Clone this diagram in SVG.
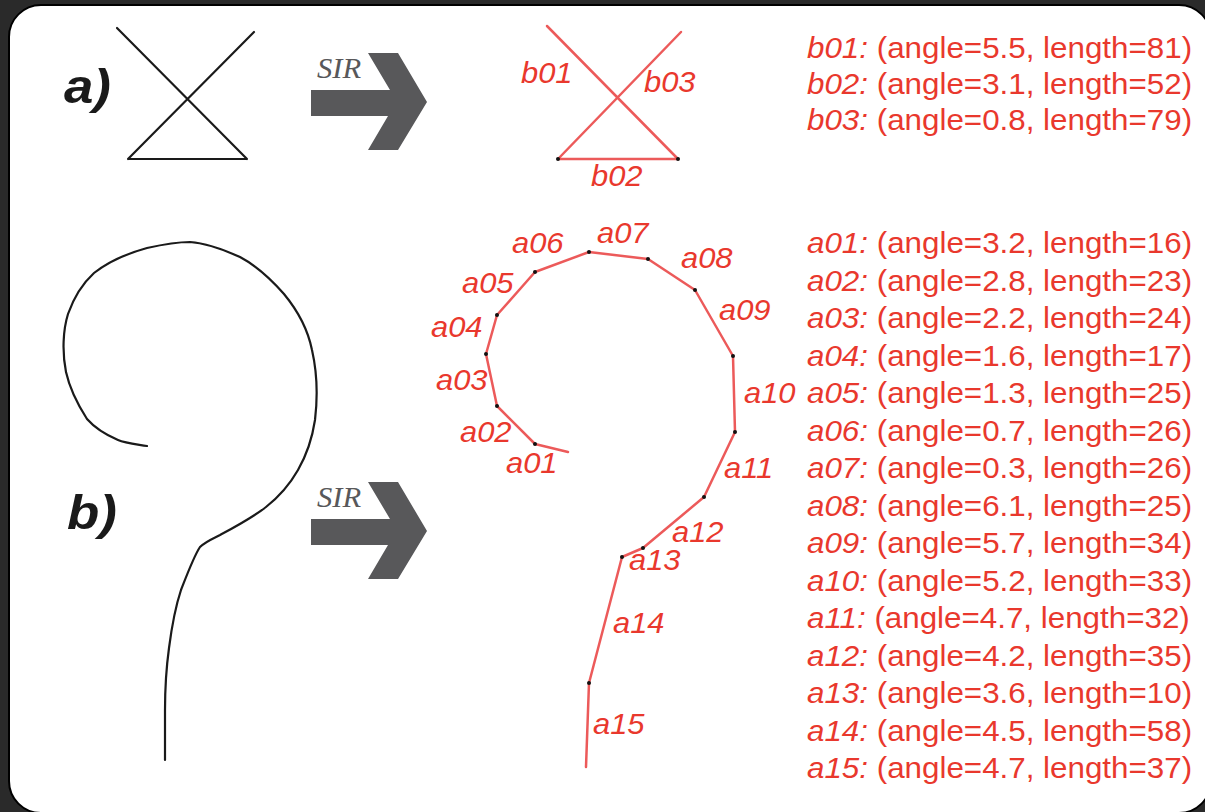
<svg xmlns="http://www.w3.org/2000/svg" width="1205" height="812" viewBox="0 0 1205 812">
<style>
.blk{fill:none;stroke:#1a1a1a;stroke-width:2.2;stroke-linejoin:round;stroke-linecap:round}
.red{fill:none;stroke:#ea4848;stroke-width:2.5;stroke-linejoin:round;stroke-linecap:round;opacity:0.9}
.dot{fill:#111}
.lbl{font-family:"Liberation Sans",Arial,sans-serif;font-style:italic;font-size:30px;fill:#e9382d}
.lst{font-family:"Liberation Sans",Arial,sans-serif;font-size:30px;fill:#e9382d}
.it{font-style:italic}
.tag{font-family:"Liberation Sans",Arial,sans-serif;font-style:italic;font-weight:bold;font-size:48px;fill:#1a1a1a}
.sir{font-family:"Liberation Serif","Times New Roman",serif;font-style:italic;font-size:30px;fill:#58585a}
.arr{fill:#58585a}
</style>
<rect width="1205" height="812" fill="#2a2a2a"/>
<rect x="9" y="5" width="1202" height="808" rx="32" fill="#ffffff" stroke="#000" stroke-width="2"/>

<g id="panel-a-input">
<text class="tag" transform="translate(64,103) scale(1.1,1)">a)</text>
<path class="blk" d="M117,28 L247,159 M254,32 L128,159 M128,159 L247,159"/>
</g>

<g id="panel-b-input">
<text class="tag" transform="translate(67,529) scale(1.1,1)">b)</text>
<path class="blk" d="M147,446 C135,444 125,443 118,440 C104,434 94,427 87,419 C78,405 70,390 66,372 C62,352 63,330 68,314 C74,297 82,284 94,273 C108,262 125,254 147,248 C165,244 178,242 190,242 C205,243 220,248 240,257 C257,266 270,278 284,294 C298,311 308,330 312,350 C317,372 318,395 315,420 C312,440 306,456 298,470 C290,484 280,496 266,507 C252,518 235,527 220,535 C212,539 205,542 200,547 C194,556 188,572 181,590 C176,605 172,625 169,648 C166,670 165,690 165,710 L165,760"/>
</g>

<g id="connectors">
<g id="arrow-a">
<text class="sir" transform="translate(317,78) scale(1.02,1)">SIR</text>
<polygon class="arr" points="311,90 390,90 368,53 398,53 427,102 398,150 368,150 388,116 311,116"/>
</g>
<g id="arrow-b">
<text class="sir" transform="translate(317,507) scale(1.02,1)">SIR</text>
<polygon class="arr" points="311,519 390,519 368,482 398,482 427,531 398,579 368,579 388,545 311,545"/>
</g>
</g>

<g id="panel-a-output">
<path class="red" d="M547,26 L678,159 M681,32 L558,159 M558,159 L678,159"/>
<circle class="dot" cx="558" cy="159" r="2"/>
<circle class="dot" cx="678" cy="159" r="2"/>
<text class="lbl" transform="translate(521,83) scale(1.03,1)">b01</text>
<text class="lbl" transform="translate(644,92) scale(1.03,1)">b03</text>
<text class="lbl" transform="translate(591,186) scale(1.03,1)">b02</text>
</g>

<g id="panel-b-output">
<polyline class="red" points="568,452 535,444 497,406 486,354 497,315 535,272 589,252 648,259 695,290 733,356 735,432 704,497 643,548 622,557 589,683 586,767"/>
<g class="dot">
<circle cx="535" cy="444" r="2"/><circle cx="497" cy="406" r="2"/><circle cx="486" cy="354" r="2"/>
<circle cx="497" cy="315" r="2"/><circle cx="535" cy="272" r="2"/><circle cx="589" cy="252" r="2"/>
<circle cx="648" cy="259" r="2"/><circle cx="695" cy="290" r="2"/><circle cx="733" cy="356" r="2"/>
<circle cx="735" cy="432" r="2"/><circle cx="704" cy="497" r="2"/><circle cx="643" cy="548" r="2"/>
<circle cx="622" cy="557" r="2"/><circle cx="589" cy="683" r="2"/>
</g>
<text class="lbl" transform="translate(506,473) scale(1.03,1)">a01</text>
<text class="lbl" transform="translate(460,442) scale(1.03,1)">a02</text>
<text class="lbl" transform="translate(436,390) scale(1.03,1)">a03</text>
<text class="lbl" transform="translate(431,337) scale(1.03,1)">a04</text>
<text class="lbl" transform="translate(462,293) scale(1.03,1)">a05</text>
<text class="lbl" transform="translate(512,253) scale(1.03,1)">a06</text>
<text class="lbl" transform="translate(597,243) scale(1.03,1)">a07</text>
<text class="lbl" transform="translate(681,268) scale(1.03,1)">a08</text>
<text class="lbl" transform="translate(719,320) scale(1.03,1)">a09</text>
<text class="lbl" transform="translate(744,403) scale(1.03,1)">a10</text>
<text class="lbl" transform="translate(724,478) scale(1.03,1)">a11</text>
<text class="lbl" transform="translate(672,542) scale(1.03,1)">a12</text>
<text class="lbl" transform="translate(629,570) scale(1.03,1)">a13</text>
<text class="lbl" transform="translate(613,633) scale(1.03,1)">a14</text>
<text class="lbl" transform="translate(593,734) scale(1.03,1)">a15</text>
</g>

<g id="list-b">
<text class="lst" transform="translate(807,58) scale(1.045,1)"><tspan class="it">b01:</tspan> (angle=5.5, length=81)</text>
<text class="lst" transform="translate(807,94) scale(1.045,1)"><tspan class="it">b02:</tspan> (angle=3.1, length=52)</text>
<text class="lst" transform="translate(807,130) scale(1.045,1)"><tspan class="it">b03:</tspan> (angle=0.8, length=79)</text>
</g>

<g id="list-a">
<text class="lst" transform="translate(807,253) scale(1.045,1)"><tspan class="it">a01:</tspan> (angle=3.2, length=16)</text>
<text class="lst" transform="translate(807,290.5) scale(1.045,1)"><tspan class="it">a02:</tspan> (angle=2.8, length=23)</text>
<text class="lst" transform="translate(807,328) scale(1.045,1)"><tspan class="it">a03:</tspan> (angle=2.2, length=24)</text>
<text class="lst" transform="translate(807,365.5) scale(1.045,1)"><tspan class="it">a04:</tspan> (angle=1.6, length=17)</text>
<text class="lst" transform="translate(807,403) scale(1.045,1)"><tspan class="it">a05:</tspan> (angle=1.3, length=25)</text>
<text class="lst" transform="translate(807,440.5) scale(1.045,1)"><tspan class="it">a06:</tspan> (angle=0.7, length=26)</text>
<text class="lst" transform="translate(807,478) scale(1.045,1)"><tspan class="it">a07:</tspan> (angle=0.3, length=26)</text>
<text class="lst" transform="translate(807,515.5) scale(1.045,1)"><tspan class="it">a08:</tspan> (angle=6.1, length=25)</text>
<text class="lst" transform="translate(807,553) scale(1.045,1)"><tspan class="it">a09:</tspan> (angle=5.7, length=34)</text>
<text class="lst" transform="translate(807,590.5) scale(1.045,1)"><tspan class="it">a10:</tspan> (angle=5.2, length=33)</text>
<text class="lst" transform="translate(807,628) scale(1.045,1)"><tspan class="it">a11:</tspan> (angle=4.7, length=32)</text>
<text class="lst" transform="translate(807,665.5) scale(1.045,1)"><tspan class="it">a12:</tspan> (angle=4.2, length=35)</text>
<text class="lst" transform="translate(807,703) scale(1.045,1)"><tspan class="it">a13:</tspan> (angle=3.6, length=10)</text>
<text class="lst" transform="translate(807,740.5) scale(1.045,1)"><tspan class="it">a14:</tspan> (angle=4.5, length=58)</text>
<text class="lst" transform="translate(807,778) scale(1.045,1)"><tspan class="it">a15:</tspan> (angle=4.7, length=37)</text>
</g>
</svg>
